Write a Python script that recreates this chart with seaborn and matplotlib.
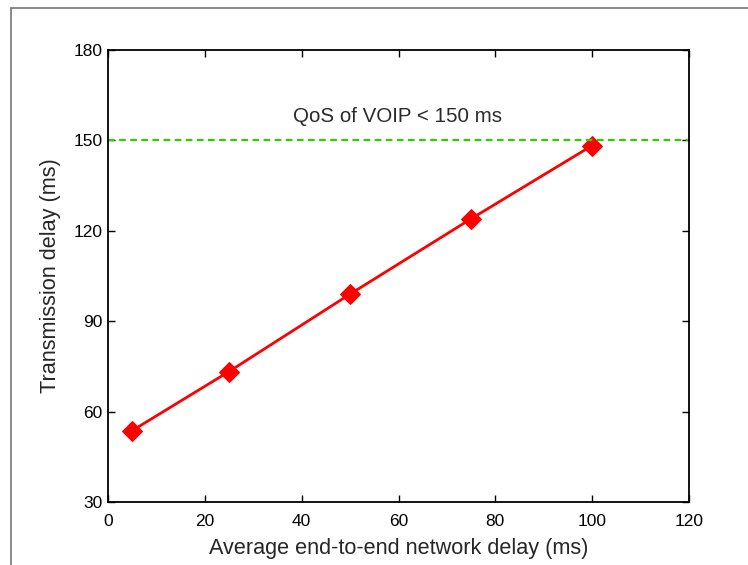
import matplotlib
matplotlib.use('Agg')
import matplotlib.pyplot as plt
import seaborn as sns
import pandas as pd
from matplotlib.lines import Line2D

# values
network_delay = [5, 25, 50, 75, 100]
transmission_delay = [53.7, 73.3, 99.0, 124.0, 148.3]
qos_limit = 150
qos_label = 'QoS of VOIP < 150 ms'
x_ticks = [0, 20, 40, 60, 80, 100, 120]
y_ticks = [30, 60, 90, 120, 150, 180]

sns.set_theme(style='white')
plt.rcParams['font.family'] = ['Liberation Sans', 'DejaVu Sans']

df = pd.DataFrame({'net': network_delay, 'trans': transmission_delay})

fig = plt.figure(figsize=(7.48, 5.65), dpi=100)
ax = fig.add_axes([108 / 748, 1 - 502 / 565, 581 / 748, 452 / 565])

sns.lineplot(data=df, x='net', y='trans', ax=ax, color='#ff0000', linewidth=2,
             marker='D', markersize=10, markeredgecolor='#ff0000')
ax.axhline(qos_limit, color='#33cc00', linestyle=(0, (3, 2)), linewidth=1.6)
ax.text(38.3, 158, qos_label, fontsize=14.8, color='#2a2a2a', ha='left', va='center')

ax.set_xlim(x_ticks[0], x_ticks[-1])
ax.set_ylim(y_ticks[0], y_ticks[-1])
ax.set_xticks(x_ticks)
ax.set_yticks(y_ticks)
ax.tick_params(direction='in', length=5, width=1, labelsize=12.5, colors='black',
               top=True, right=True, bottom=True, left=True, pad=4)
ax.tick_params(axis='x', pad=9)
for s in ax.spines.values():
    s.set_color('black')
    s.set_linewidth(1.3)

ax.set_xlabel('Average end-to-end network delay (ms)', fontsize=15.6, labelpad=6)
ax.set_ylabel('Transmission delay (ms)', fontsize=15.6, labelpad=9)

# outer frame (left and top edges visible in the reference)
fig.add_artist(Line2D([11 / 748, 11 / 748], [0, 1 - 8 / 565], color='#777777', linewidth=1.2))
fig.add_artist(Line2D([11 / 748, 1], [1 - 8 / 565, 1 - 8 / 565], color='#777777', linewidth=1.2))

fig.savefig('out.png', dpi=100)
